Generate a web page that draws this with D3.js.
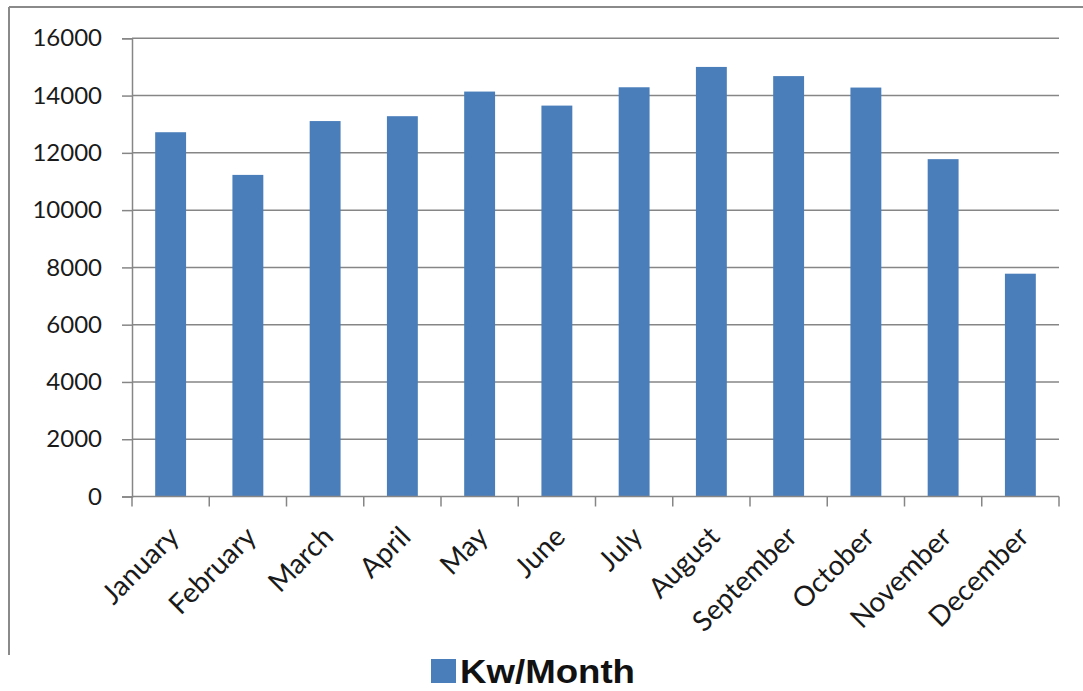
<!DOCTYPE html>
<html>
<head>
<meta charset="utf-8">
<script src="https://cdn.jsdelivr.net/npm/d3@7"></script>
<style>
  html, body { margin: 0; padding: 0; background: #fff; }
  svg { display: block; }
</style>
</head>
<body>
<svg id="chart" width="1083" height="691"></svg>
<script>
const months = ["January","February","March","April","May","June","July","August","September","October","November","December"];
const kwPerMonth = [12720, 11230, 13110, 13280, 14140, 13650, 14290, 15000, 14680, 14280, 11780, 7780];
const yTicks = [0, 2000, 4000, 6000, 8000, 10000, 12000, 14000, 16000];
const seriesName = "Kw/Month";

const svg = d3.select("#chart");
const W = 1083, H = 691;
const plot = { left: 132, right: 1059, top: 38.3, bottom: 496.5 };

// outer frame (top and left borders)
svg.append("line").attr("x1", 9).attr("x2", W).attr("y1", 7).attr("y2", 7)
  .attr("stroke", "#8a8a8a").attr("stroke-width", 2);
svg.append("line").attr("x1", 9).attr("x2", 9).attr("y1", 7).attr("y2", 655)
  .attr("stroke", "#8a8a8a").attr("stroke-width", 2);

const x = d3.scaleBand().domain(months).range([plot.left, plot.right])
  .paddingInner(0.6).paddingOuter(0.3);
const y = d3.scaleLinear().domain([0, 16000]).range([plot.bottom, plot.top]);

// gridlines
svg.append("g").selectAll("line").data(yTicks.filter(d => d > 0)).join("line")
  .attr("x1", plot.left).attr("x2", plot.right)
  .attr("y1", d => y(d)).attr("y2", d => y(d))
  .attr("stroke", "#868686").attr("stroke-width", 1.5);

// y axis
const yAxis = svg.append("g").attr("transform", `translate(${plot.left},0)`)
  .call(d3.axisLeft(y).tickValues(yTicks).tickSize(10).tickPadding(20).tickFormat(d3.format("d")));
yAxis.select(".domain").attr("stroke", "#868686").attr("stroke-width", 1.5);
yAxis.selectAll(".tick line").attr("stroke", "#868686").attr("stroke-width", 1.5);
yAxis.selectAll(".tick text").attr("font-family", "Lato, 'Open Sans', sans-serif")
  .attr("font-size", 24).attr("fill", "#1a1a1a");

// bars
svg.append("g").selectAll("rect").data(months).join("rect")
  .attr("x", d => x(d)).attr("width", x.bandwidth())
  .attr("y", (d, i) => y(kwPerMonth[i]))
  .attr("height", (d, i) => y(0) - y(kwPerMonth[i]))
  .attr("fill", "#4a7ebb");

// x axis
const step = x.step();
const xAxis = svg.append("g").attr("transform", `translate(0,${plot.bottom})`);
xAxis.append("line").attr("x1", plot.left).attr("x2", plot.right)
  .attr("stroke", "#868686").attr("stroke-width", 1.5);
const boundaries = d3.range(months.length + 1).map(i => plot.left + i * step);
xAxis.selectAll("line.tk").data(boundaries).join("line").attr("class", "tk")
  .attr("x1", d => d).attr("x2", d => d).attr("y1", 0).attr("y2", 10)
  .attr("stroke", "#868686").attr("stroke-width", 1.5);
xAxis.selectAll("text").data(months).join("text")
  .attr("transform", d => `translate(${x(d) + x.bandwidth() / 2 + 10},${42}) rotate(-45)`)
  .attr("text-anchor", "end")
  .attr("font-family", "Lato, 'Open Sans', sans-serif")
  .attr("font-size", 28).attr("fill", "#1a1a1a")
  .text(d => d);

// legend
const lg = svg.append("g");
lg.append("rect").attr("x", 431).attr("y", 659).attr("width", 25).attr("height", 24).attr("fill", "#4a7ebb");
lg.append("text").attr("x", 460).attr("y", 683)
  .attr("font-family", "'Liberation Sans', Arial, sans-serif").attr("font-weight", "bold")
  .attr("font-size", 33).attr("fill", "#111")
  .attr("textLength", 175).attr("lengthAdjust", "spacingAndGlyphs")
  .text(seriesName);
</script>
</body>
</html>
